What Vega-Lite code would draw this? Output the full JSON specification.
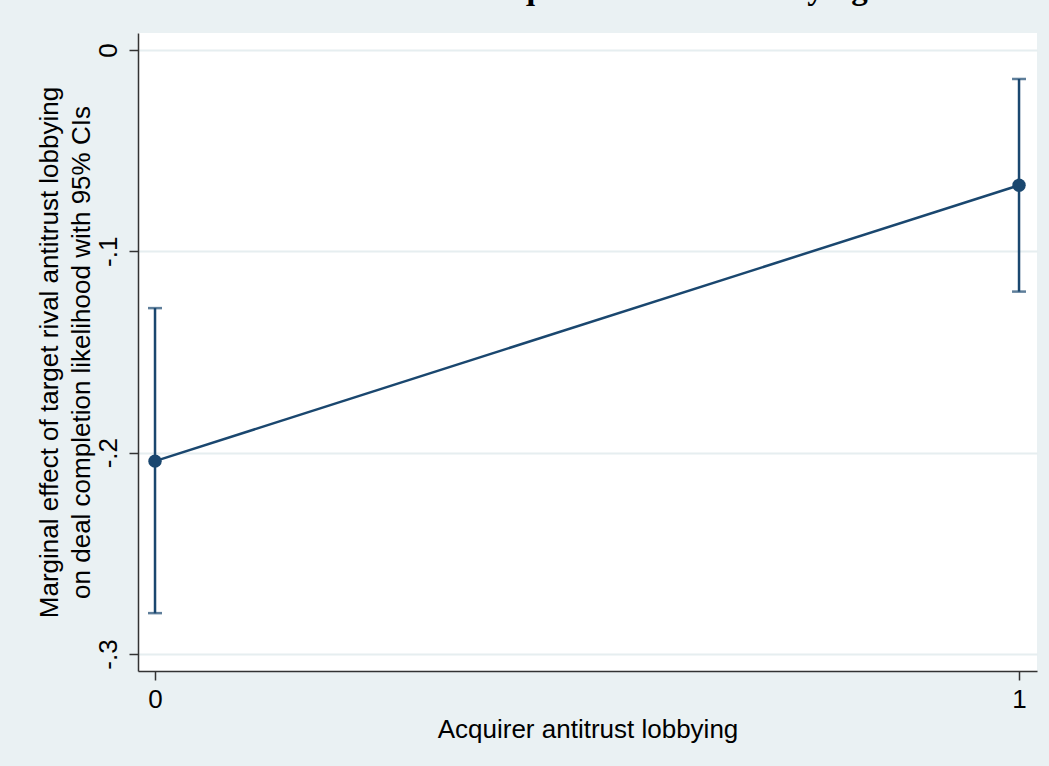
{
  "$schema": "https://vega.github.io/schema/vega-lite/v6.json",
  "autosize": "none",
  "width": 899,
  "height": 638,
  "padding": {"left": 138, "top": 33, "right": 12, "bottom": 95},
  "background": "#EAF1F3",
  "title": {
    "text": "Different levels of Acquirer antitrust lobbying",
    "font": "Liberation Serif",
    "fontSize": 33,
    "fontWeight": "bold",
    "color": "#000000",
    "anchor": "middle",
    "baseline": "alphabetic",
    "offset": 1,
    "dx": -42
  },
  "config": {
    "view": {"fill": "#FFFFFF", "stroke": null},
    "axis": {
      "labelFont": "Liberation Sans",
      "titleFont": "Liberation Sans",
      "labelFontSize": 26,
      "titleFontSize": 26,
      "labelColor": "#000000",
      "titleColor": "#000000",
      "titleFontWeight": "normal",
      "domainColor": "#333333",
      "domainWidth": 1.5,
      "tickColor": "#333333",
      "tickWidth": 1.5,
      "tickSize": 9
    }
  },
  "data": {
    "values": [
      {"lobby": 0, "est": -0.2042, "lo": -0.2797, "hi": -0.1282},
      {"lobby": 1, "est": -0.0672, "lo": -0.1200, "hi": -0.0144}
    ]
  },
  "encoding": {
    "x": {
      "field": "lobby",
      "type": "quantitative",
      "scale": {"domain": [-0.0197, 1.0208], "nice": false, "zero": false},
      "axis": {
        "title": "Acquirer antitrust lobbying",
        "values": [0, 1],
        "format": "d",
        "grid": false,
        "labelPadding": 6,
        "titlePadding": 4
      }
    }
  },
  "layer": [
    {
      "mark": {"type": "rule", "color": "#1A476F", "strokeWidth": 2.5},
      "encoding": {
        "y": {
          "field": "lo",
          "type": "quantitative",
          "scale": {"domain": [-0.30844, 0.00844], "nice": false, "zero": false},
          "axis": {
            "title": ["Marginal effect of target rival antitrust lobbying", "on deal completion likelihood with 95% CIs"],
            "values": [0, -0.1, -0.2, -0.3],
            "labelExpr": "datum.value == 0 ? '0' : '-.' + round(-datum.value * 10)",
            "labelAngle": -90,
            "labelAlign": "center",
            "labelBaseline": "alphabetic",
            "labelPadding": 13,
            "grid": true,
            "gridColor": "#E6EEF0",
            "gridWidth": 2,
            "titleLineHeight": 32,
            "titlePadding": 1
          }
        },
        "y2": {"field": "hi"}
      }
    },
    {
      "mark": {"type": "tick", "orient": "horizontal", "color": "#1A476F", "size": 14, "thickness": 2.5},
      "encoding": {"y": {"field": "lo", "type": "quantitative"}}
    },
    {
      "mark": {"type": "tick", "orient": "horizontal", "color": "#1A476F", "size": 14, "thickness": 2.5},
      "encoding": {"y": {"field": "hi", "type": "quantitative"}}
    },
    {
      "mark": {"type": "line", "color": "#1A476F", "strokeWidth": 2.5},
      "encoding": {"y": {"field": "est", "type": "quantitative"}}
    },
    {
      "mark": {"type": "point", "filled": true, "shape": "circle", "color": "#1A476F", "opacity": 1, "size": 180},
      "encoding": {"y": {"field": "est", "type": "quantitative"}}
    }
  ]
}
